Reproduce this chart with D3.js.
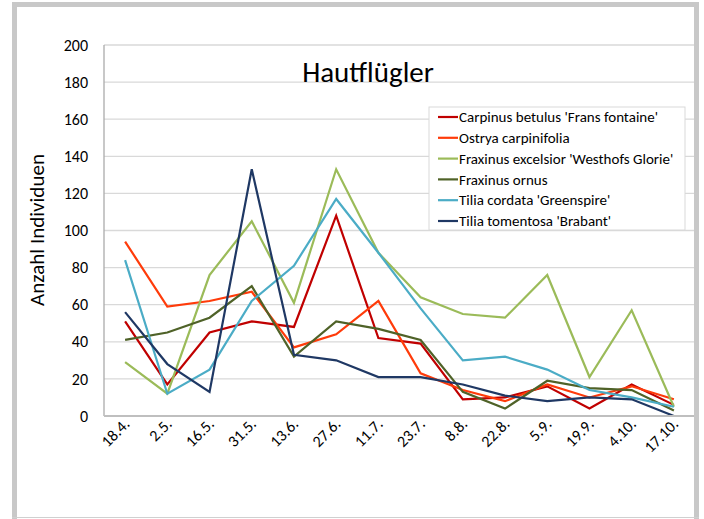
<!DOCTYPE html>
<html>
<head>
<meta charset="utf-8">
<script src="https://cdn.jsdelivr.net/npm/d3@7"></script>
<style>
  body { margin: 0; background: #fff; }
  svg { display: block; font-family: Carlito, Calibri, "Liberation Sans", "Open Sans", sans-serif; }
</style>
</head>
<body>
<svg id="chart" width="704" height="519"></svg>
<script>
// dates of the samples
var dates = ["18.4.", "2.5.", "16.5.", "31.5.", "13.6.", "27.6.", "11.7.", "23.7.", "8.8.", "22.8.", "5.9.", "19.9.", "4.10.", "17.10."]

var carpinus   = [51, 17, 45, 51, 48, 108, 42, 39, 9, 10, 16, 4, 17, 6]
var ostrya     = [94, 59, 62, 67, 37, 44, 62, 23, 14, 8, 17, 10, 16, 9]
var fraxExc    = [29, 12, 76, 105, 61, 133, 88, 64, 55, 53, 76, 21, 57, 5]
var fraxOrnus  = [41, 45, 53, 70, 32, 51, 47, 41, 13, 4, 19, 15, 14, 3]
var tiliaCord  = [84, 12, 25, 62, 81, 117, 88, 58, 30, 32, 25, 14, 10, 5]
var tiliaTom   = [56, 28, 13, 133, 33, 30, 21, 21, 17, 11, 8, 10, 9, 0]

var seriesNames = ["Carpinus betulus 'Frans fontaine'", "Ostrya carpinifolia", "Fraxinus excelsior 'Westhofs Glorie'",
                   "Fraxinus ornus", "Tilia cordata 'Greenspire'", "Tilia tomentosa 'Brabant'"]
var seriesColors = ["#C00000", "#FF3B0A", "#9BBB59", "#4F6228", "#4BACC6", "#1F3864"]
var yTicks = [0, 20, 40, 60, 80, 100, 120, 140, 160, 180, 200]

var series = [carpinus, ostrya, fraxExc, fraxOrnus, tiliaCord, tiliaTom].map(function(v, i){
    return {name: seriesNames[i], color: seriesColors[i], values: v}
})

var svg = d3.select("#chart")

// plot box (window.top is taken, so use other names)
var plotL = 104, plotR = 695, plotT = 45, plotB = 416

var x = d3.scalePoint()
    .domain(dates)
    .range([plotL, plotR])
    .padding(0.5)

var y = d3.scaleLinear()
    .domain([0, 200])
    .range([plotB, plotT])

// gridlines
svg.append("g")
    .selectAll("line")
    .data(yTicks.filter(function(d){ return d > 0 }))
    .enter()
        .append("line")
        .attr("x1", plotL)
        .attr("x2", plotR)
        .attr("y1", function(d){ return y(d) })
        .attr("y2", function(d){ return y(d) })
        .attr("stroke", "#D9D9D9")
        .attr("stroke-width", 1.3)

// left axis line
svg.append("line")
    .attr("x1", plotL).attr("x2", plotL)
    .attr("y1", plotT).attr("y2", plotB)
    .attr("stroke", "#ABABAB")
    .attr("stroke-width", 1.3)

// y axis labels
var yAxis = d3.axisLeft(y).tickValues(yTicks).tickSize(0).tickPadding(16)
var gy = svg.append("g")
    .attr("transform", "translate(" + plotL + ",0)")
    .call(yAxis)
gy.select(".domain").remove()
gy.selectAll("text")
    .attr("font-size", 16)
    .attr("fill", "#000")
    .attr("font-family", "Carlito, Calibri, 'Liberation Sans', sans-serif")

// lines
var line = d3.line()
    .x(function(d, i){ return x(dates[i]) })
    .y(function(d){ return y(d) })

svg.append("g")
    .selectAll("path")
    .data(series)
    .enter()
        .append("path")
        .attr("d", function(d){ return line(d.values) })
        .attr("fill", "none")
        .attr("stroke", function(d){ return d.color })
        .attr("stroke-width", 2.2)
        .attr("stroke-linejoin", "miter")

// baseline
svg.append("line")
    .attr("x1", plotL).attr("x2", plotR)
    .attr("y1", plotB).attr("y2", plotB)
    .attr("stroke", "#BFBFBF")
    .attr("stroke-width", 2)

// x axis labels, rotated
var xAxis = d3.axisBottom(x).tickSize(0).tickPadding(0)
var gx = svg.append("g")
    .attr("transform", "translate(0," + plotB + ")")
    .call(xAxis)
gx.select(".domain").remove()
gx.selectAll("text")
    .attr("font-size", 16)
    .attr("fill", "#000")
    .attr("font-family", "Carlito, Calibri, 'Liberation Sans', sans-serif")
    .attr("text-anchor", "end")
    .attr("y", 0)
    .attr("dy", "0.35em")
    .attr("transform", "translate(1,5) rotate(-45)")

// y title
svg.append("text")
    .attr("transform", "translate(44,230) rotate(-90)")
    .attr("text-anchor", "middle")
    .attr("font-size", 21)
    .text("Anzahl Individuen")

// chart title
svg.append("text")
    .attr("x", 368)
    .attr("y", 82)
    .attr("text-anchor", "middle")
    .attr("font-size", 29)
    .text("Hautflügler")

// legend
var legend = svg.append("g").attr("transform", "translate(429,107)")
legend.append("rect")
    .attr("width", 256)
    .attr("height", 123)
    .attr("fill", "#fff")
    .attr("stroke", "#D9D9D9")
    .attr("stroke-width", 1)

var items = legend.selectAll("g.item")
    .data(series)
    .enter()
        .append("g")
        .attr("class", "item")
        .attr("transform", function(d, i){ return "translate(0," + (10 + i * 20.8) + ")" })

items.append("line")
    .attr("x1", 9).attr("x2", 29)
    .attr("stroke", function(d){ return d.color })
    .attr("stroke-width", 2.2)

items.append("text")
    .attr("x", 30)
    .attr("dy", "0.35em")
    .attr("font-size", 15)
    .text(function(d){ return d.name })

// outer frame
svg.append("path")
    .attr("d", "M14.5,525 L14.5,4.5 L696.5,4.5 L696.5,525")
    .attr("fill", "none")
    .attr("stroke", "#C8C8C8")
    .attr("stroke-width", 5)
svg.append("line")
    .attr("x1", 12).attr("x2", 699)
    .attr("y1", 517.5).attr("y2", 517.5)
    .attr("stroke", "#D0D0D0")
    .attr("stroke-width", 1)
</script>
</body>
</html>
